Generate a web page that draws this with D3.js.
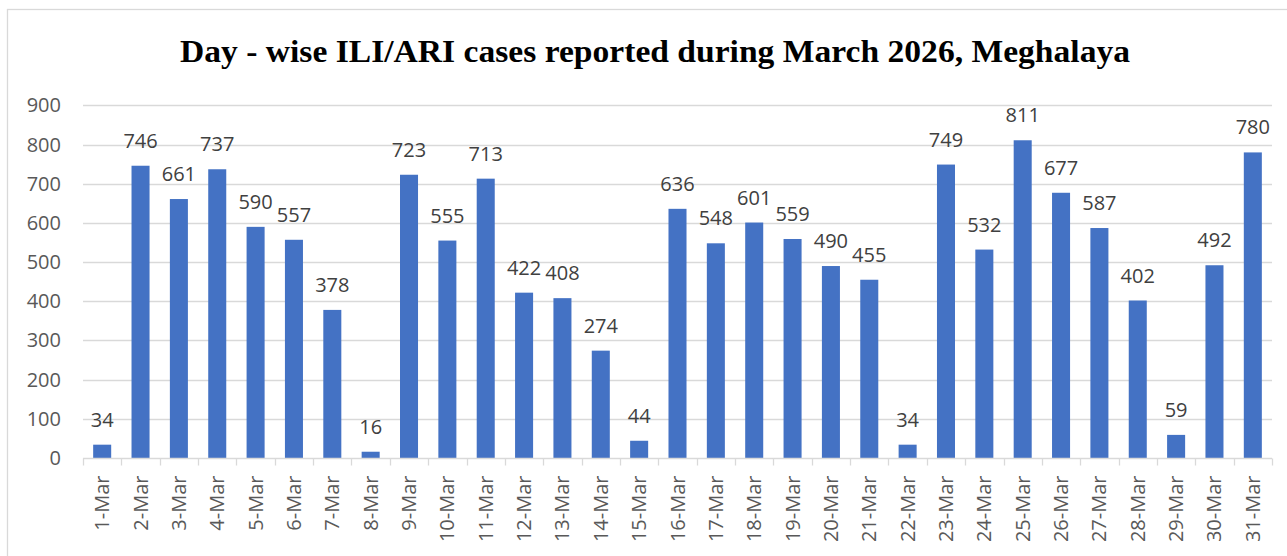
<!DOCTYPE html>
<html>
<head>
<meta charset="utf-8">
<script src="https://cdn.jsdelivr.net/npm/d3@7"></script>
<style>
  body { margin: 0; background: #fff; }
  svg { display: block; }
</style>
</head>
<body>
<svg width="1287" height="556"></svg>
<script>
var days = [];
for (var i = 1; i <= 31; i++) days.push(i + "-Mar");

var cases = [34, 746, 661, 737, 590, 557, 378, 16, 723, 555, 713, 422, 408, 274, 44,
  636, 548, 601, 559, 490, 455, 34, 749, 532, 811, 677, 587, 402, 59, 492, 780];

var yTicks = [0, 100, 200, 300, 400, 500, 600, 700, 800, 900];

var titleText = "Day - wise ILI/ARI cases reported during March 2026, Meghalaya";

var svg = d3.select("svg"),
  plotLeft = 83, plotRight = 1272, plotTop = 105.4, plotBottom = 458;

// chart frame
svg.append("rect")
  .attr("x", 7.5).attr("y", 9.5)
  .attr("width", 1300).attr("height", 600)
  .attr("fill", "none").attr("stroke", "#d9d9d9").attr("stroke-width", 1.3);

var x = d3.scaleBand().domain(days).range([plotLeft, plotRight]).paddingInner(0.53).paddingOuter(0.265);
var xb = d3.scaleBand().domain(days).range([plotLeft, plotRight]);
var y = d3.scaleLinear().domain([0, 900]).range([plotBottom, plotTop]);

// gridlines
svg.append("g").selectAll("line")
  .data(yTicks.slice(1))
  .enter().append("line")
  .attr("x1", plotLeft).attr("x2", plotRight)
  .attr("y1", function (d) { return Math.round(y(d)) + 0.5; })
  .attr("y2", function (d) { return Math.round(y(d)) + 0.5; })
  .attr("stroke", "#d9d9d9").attr("stroke-width", 1.3);

// y labels
svg.append("g").selectAll("text")
  .data(yTicks)
  .enter().append("text")
  .attr("x", 61).attr("y", function (d) { return y(d); })
  .attr("dy", "0.35em")
  .attr("text-anchor", "end")
  .attr("font-family", "'Open Sans', sans-serif")
  .attr("font-size", 20)
  .attr("fill", "#595959")
  .text(function (d) { return d; });

// bars
svg.append("g").selectAll("rect")
  .data(cases)
  .enter().append("rect")
  .attr("x", function (d, i) { return x(days[i]); })
  .attr("width", x.bandwidth())
  .attr("y", function (d) { return y(d); })
  .attr("height", function (d) { return plotBottom - y(d); })
  .attr("fill", "#4472C4");

// value labels
svg.append("g").selectAll("text")
  .data(cases)
  .enter().append("text")
  .attr("x", function (d, i) { return x(days[i]) + x.bandwidth() / 2; })
  .attr("y", function (d) { return y(d) - 18; })
  .attr("text-anchor", "middle")
  .attr("font-family", "'Open Sans', sans-serif")
  .attr("font-size", 20)
  .attr("fill", "#404040")
  .text(function (d) { return d; });

// x axis
var xAxis = svg.append("g").attr("transform", "translate(0," + (plotBottom + 0.5) + ")");
xAxis.append("line")
  .attr("x1", plotLeft).attr("x2", plotRight)
  .attr("stroke", "#d9d9d9").attr("stroke-width", 1.5);
xAxis.selectAll(".tick")
  .data(days.concat(["end"]))
  .enter().append("line")
  .attr("x1", function (d, i) { return Math.round(plotLeft + i * xb.step()) + 0.5; })
  .attr("x2", function (d, i) { return Math.round(plotLeft + i * xb.step()) + 0.5; })
  .attr("y1", 0).attr("y2", 7)
  .attr("stroke", "#d9d9d9").attr("stroke-width", 1.3);
xAxis.selectAll("text")
  .data(days)
  .enter().append("text")
  .attr("transform", function (d) {
    return "translate(" + (xb(d) + xb.bandwidth() / 2) + ",17) rotate(-90)";
  })
  .attr("dy", "0.35em")
  .attr("text-anchor", "end")
  .attr("font-family", "'Open Sans', sans-serif")
  .attr("font-size", 20)
  .attr("fill", "#595959")
  .text(function (d) { return d; });

// title
svg.append("text")
  .attr("x", 655).attr("y", 62)
  .attr("text-anchor", "middle")
  .attr("font-family", "'Liberation Serif', serif")
  .attr("font-weight", "bold")
  .attr("font-size", 32)
  .attr("textLength", 950)
  .attr("lengthAdjust", "spacingAndGlyphs")
  .attr("fill", "#000")
  .text(titleText);
</script>
</body>
</html>
